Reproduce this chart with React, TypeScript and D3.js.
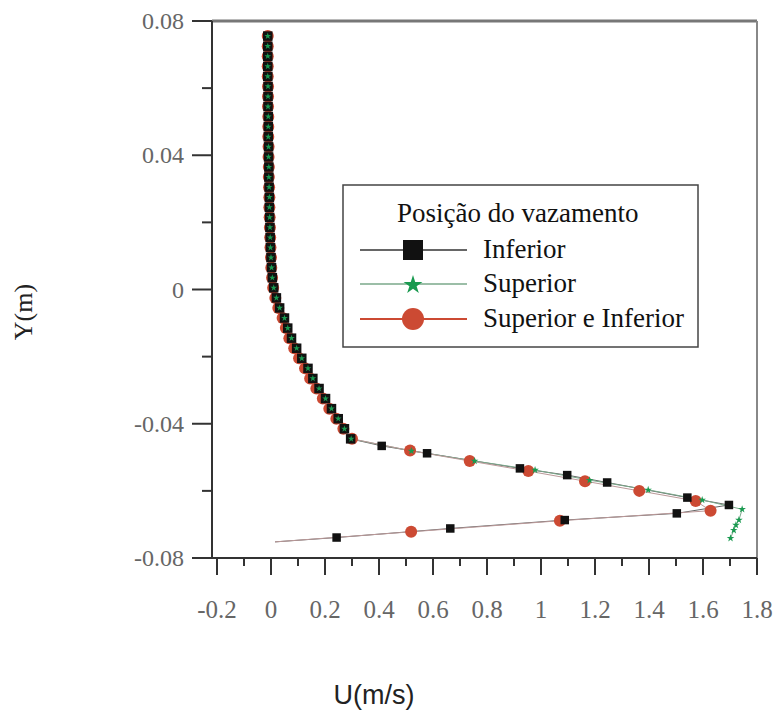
import React from "react";
import * as d3 from "d3";

// ---------- data ----------
const yDense = [0.0755, 0.0725, 0.0695, 0.0665, 0.0635, 0.0605, 0.0575, 0.0545, 0.0515, 0.0485, 0.0455, 0.0425, 0.0395, 0.0365, 0.0335, 0.0305, 0.0275, 0.0245, 0.0215, 0.0185, 0.0155, 0.0125, 0.0095, 0.0065, 0.0035, 0.0005, -0.0025, -0.0055, -0.0085, -0.0115, -0.0145, -0.0175, -0.0205, -0.0235, -0.0265, -0.0295, -0.0325, -0.0355, -0.0385, -0.0415, -0.0445];
const infDenseU = [-0.012, -0.012, -0.012, -0.012, -0.012, -0.011, -0.011, -0.011, -0.010, -0.010, -0.010, -0.009, -0.009, -0.008, -0.008, -0.007, -0.006, -0.006, -0.005, -0.004, -0.003, -0.002, 0.000, 0.002, 0.005, 0.010, 0.020, 0.032, 0.050, 0.062, 0.076, 0.095, 0.114, 0.137, 0.155, 0.178, 0.202, 0.224, 0.249, 0.272, 0.295];
const supDenseU = [-0.012, -0.012, -0.012, -0.012, -0.012, -0.011, -0.011, -0.011, -0.010, -0.010, -0.010, -0.009, -0.009, -0.008, -0.008, -0.007, -0.006, -0.006, -0.005, -0.004, -0.003, -0.002, 0.000, 0.002, 0.005, 0.010, 0.020, 0.032, 0.050, 0.062, 0.076, 0.095, 0.114, 0.137, 0.155, 0.178, 0.202, 0.224, 0.249, 0.272, 0.297];
const bothDenseU = [-0.012, -0.012, -0.012, -0.012, -0.012, -0.011, -0.011, -0.011, -0.010, -0.010, -0.010, -0.009, -0.009, -0.008, -0.008, -0.007, -0.006, -0.006, -0.005, -0.004, -0.003, -0.002, 0.000, 0.001, 0.004, 0.008, 0.016, 0.027, 0.043, 0.055, 0.068, 0.086, 0.104, 0.126, 0.145, 0.168, 0.192, 0.216, 0.242, 0.268, 0.300];

const infTailU = [0.410, 0.578, 0.922, 1.097, 1.245, 1.542, 1.696, 1.503, 1.088, 0.664, 0.243];
const infTailY = [-0.0466, -0.0488, -0.0533, -0.0553, -0.0575, -0.0620, -0.0642, -0.0667, -0.0687, -0.0712, -0.0739];
const supTailU = [0.520, 0.754, 0.978, 1.180, 1.397, 1.597, 1.745, 1.733, 1.722, 1.714, 1.702];
const supTailY = [-0.0481, -0.0511, -0.0538, -0.0568, -0.0597, -0.0627, -0.0655, -0.0687, -0.0702, -0.0717, -0.0741];
const bothTailU = [0.515, 0.736, 0.953, 1.163, 1.364, 1.573, 1.628, 1.070, 0.519];
const bothTailY = [-0.0480, -0.0511, -0.0541, -0.0571, -0.0600, -0.0630, -0.0659, -0.0689, -0.0722];
const wallU = [0.015];
const wallY = [-0.0752];

const xTicks = [-0.2, 0, 0.2, 0.4, 0.6, 0.8, 1, 1.2, 1.4, 1.6, 1.8];
const xTickLabels = ["-0.2", "0", "0.2", "0.4", "0.6", "0.8", "1", "1.2", "1.4", "1.6", "1.8"];
const xMinor = [-0.1, 0.1, 0.3, 0.5, 0.7, 0.9, 1.1, 1.3, 1.5, 1.7];
const yTicks = [0.08, 0.04, 0, -0.04, -0.08];
const yTickLabels = ["0.08", "0.04", "0", "-0.04", "-0.08"];
const yMinor = [0.06, 0.02, -0.02, -0.06];

const legendTitle = "Posição do vazamento";
const seriesNames = ["Inferior", "Superior", "Superior e Inferior"];

const W = 781, H = 713;
const LEFT = 212, RIGHT = 757, TOP = 21, BOTTOM = 558;
const x = d3.scaleLinear().domain([-0.2, 1.8]).range([217, 757]);
const y = d3.scaleLinear().domain([-0.08, 0.08]).range([BOTTOM, TOP]);

type P = [number, number];
const zip = (us: number[], ys: number[]): P[] => us.map((u, i) => [u, ys[i]]);

const infPts = [...zip(infDenseU, yDense), ...zip(infTailU, infTailY)];
const supPts = [...zip(supDenseU, yDense), ...zip(supTailU, supTailY)];
const bothPts = [...zip(bothDenseU, yDense), ...zip(bothTailU, bothTailY)];
const wallPts = zip(wallU, wallY);

const line = d3.line<P>().x(d => x(d[0])).y(d => y(d[1]));

const RED = "#cc4a33", GREEN = "#1a9a50", BLACK = "#111";
const star = (s: number) => d3.symbol().type(d3.symbolStar).size(s)() as string;

export default function App() {
  const fontSerif = "'Liberation Serif', 'Times New Roman', serif";
  const nd = yDense.length;
  return (
    <svg width={W} height={H} style={{ position: "absolute", left: 0, top: 0, background: "#fff" }}>
      <rect x={0} y={0} width={W} height={H} fill="#fff" />
      {/* frame */}
      <line x1={LEFT} x2={RIGHT} y1={TOP} y2={TOP} stroke="#777" strokeWidth={3} />
      <line x1={RIGHT} x2={RIGHT} y1={TOP} y2={BOTTOM} stroke="#888" strokeWidth={2} />
      <line x1={LEFT} x2={LEFT} y1={TOP} y2={BOTTOM} stroke="#333" strokeWidth={2} />
      <line x1={196} x2={RIGHT} y1={BOTTOM} y2={BOTTOM} stroke="#333" strokeWidth={2} />
      {/* y ticks */}
      {yTicks.map((t, i) => (
        <g key={"yt" + i}>
          <line x1={LEFT - 20} x2={LEFT} y1={y(t)} y2={y(t)} stroke="#333" strokeWidth={2} />
          <text x={184} y={y(t) + 8} textAnchor="end" fontFamily={fontSerif} fontSize={24} fill="#666">{yTickLabels[i]}</text>
        </g>
      ))}
      {yMinor.map((t, i) => (
        <line key={"ym" + i} x1={LEFT - 10} x2={LEFT} y1={y(t)} y2={y(t)} stroke="#333" strokeWidth={2} />
      ))}
      {/* x ticks */}
      {xTicks.map((t, i) => (
        <g key={"xt" + i}>
          <line x1={x(t)} x2={x(t)} y1={BOTTOM} y2={BOTTOM + 17} stroke="#333" strokeWidth={2} />
          <text x={x(t)} y={618} textAnchor="middle" fontFamily={fontSerif} fontSize={25} fill="#666">{xTickLabels[i]}</text>
        </g>
      ))}
      {xMinor.map((t, i) => (
        <line key={"xm" + i} x1={x(t)} x2={x(t)} y1={BOTTOM} y2={BOTTOM + 8} stroke="#333" strokeWidth={2} />
      ))}
      {/* series lines */}
      <path d={line([...infPts, ...wallPts]) as string} fill="none" stroke="#666" strokeWidth={1} />
      <path d={line(supPts) as string} fill="none" stroke="#7aa88a" strokeWidth={1} />
      <path d={line([...bothPts, ...wallPts]) as string} fill="none" stroke="#b99" strokeWidth={1} />
      {/* markers */}
      {bothPts.map((p, i) => (
        <circle key={"r" + i} cx={x(p[0])} cy={y(p[1])} r={6} fill={RED} />
      ))}
      {infPts.map((p, i) => {
        const s = i < nd ? 9.5 : 8.5;
        return <rect key={"b" + i} x={x(p[0]) - s / 2} y={y(p[1]) - s / 2} width={s} height={s} fill={BLACK} />;
      })}
      {supPts.map((p, i) => (
        <path key={"g" + i} transform={`translate(${x(p[0])},${y(p[1])})`} d={star(i < nd ? 14 : 18)} fill={GREEN} />
      ))}
      {/* legend */}
      <rect x={343} y={185} width={355} height={162} fill="#fff" stroke="#444" strokeWidth={1.5} />
      <text x={397} y={222} fontFamily={fontSerif} fontSize={27} fill="#111">{legendTitle}</text>
      <line x1={360} x2={467} y1={250} y2={250} stroke="#333" strokeWidth={1.5} />
      <rect x={403} y={240} width={20} height={20} fill={BLACK} />
      <text x={483} y={258} fontFamily={fontSerif} fontSize={27} fill="#111">{seriesNames[0]}</text>
      <line x1={360} x2={467} y1={284} y2={284} stroke="#7aa88a" strokeWidth={1.5} />
      <path transform="translate(413,285)" d={star(110)} fill={GREEN} />
      <text x={483} y={292} fontFamily={fontSerif} fontSize={27} fill="#111">{seriesNames[1]}</text>
      <line x1={360} x2={467} y1={319} y2={319} stroke={RED} strokeWidth={2} />
      <circle cx={413} cy={319} r={11} fill={RED} />
      <text x={483} y={327} fontFamily={fontSerif} fontSize={27} fill="#111">{seriesNames[2]}</text>
      {/* axis titles */}
      <text transform="translate(32,312) rotate(-90)" textAnchor="middle" fontFamily={fontSerif} fontSize={26} fill="#222">Y(m)</text>
      <text x={374} y={704} textAnchor="middle" fontFamily="'Liberation Sans', Arial, sans-serif" fontSize={27} fill="#222">U(m/s)</text>
    </svg>
  );
}
